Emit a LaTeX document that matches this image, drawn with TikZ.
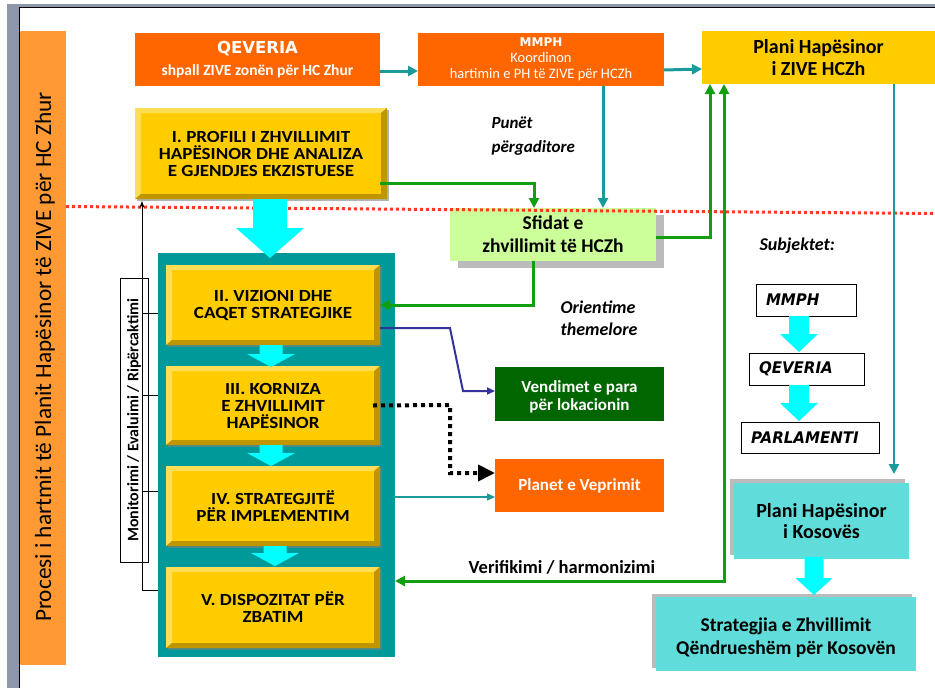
\documentclass[tikz,border=0pt]{standalone}
\usepackage{fontspec}
\setmainfont{Carlito}
\newfontfamily\dejavu{DejaVu Sans}
\newfontfamily\subjfont{DejaVu Sans}[FakeStretch=0.94]
\newfontfamily\gill{Carlito}[FakeStretch=1.12]
\usetikzlibrary{arrows.meta,shadows}
\definecolor{barorange}{HTML}{FF9933}
\definecolor{boxorange}{HTML}{FF6600}
\definecolor{boxyellow}{HTML}{FFCC00}
\definecolor{ylight}{HTML}{FFDD55}
\definecolor{ydark}{HTML}{BF9600}
\definecolor{contteal}{HTML}{009999}
\definecolor{arrcyan}{HTML}{00FFFF}
\definecolor{lgreen}{HTML}{CCFF99}
\definecolor{dgreen}{HTML}{006600}
\definecolor{kcyan}{HTML}{60DDDA}
\definecolor{lngreen}{HTML}{119F11}
\definecolor{lnteal}{HTML}{1A9A9A}
\definecolor{lnblue}{HTML}{333399}
\definecolor{frgray}{HTML}{8E97AA}
\definecolor{dotred}{HTML}{FF3A1A}
\definecolor{shgray}{HTML}{BBBBBB}
\newcommand\bevel[1]{%
 \fill[ylight] (#1.north west) -- (#1.north east) -- ([xshift=-6pt,yshift=-5pt]#1.north east) -- ([xshift=6pt,yshift=-5pt]#1.north west) -- ([xshift=6pt,yshift=5pt]#1.south west) -- (#1.south west) -- cycle;
 \fill[ydark] (#1.south west) -- (#1.south east) -- (#1.north east) -- ([xshift=-6pt,yshift=-5pt]#1.north east) -- ([xshift=-6pt,yshift=5pt]#1.south east) -- ([xshift=6pt,yshift=5pt]#1.south west) -- cycle;}
\newcommand\blockarr[6]{\fill[arrcyan] (#1-#5,#2) -- (#1+#5,#2) -- (#1+#5,#3) -- (#1+#6,#3) -- (#1,#4) -- (#1-#6,#3) -- (#1-#5,#3) -- cycle;}
\begin{document}
\begin{tikzpicture}[x=1pt,y=-1pt,
 sz/.style 2 args={minimum width=#1pt,minimum height=#2pt,inner sep=0pt,outer sep=0pt},
 ybox/.style={fill=boxyellow,align=center,font=\gill\bfseries\fontsize{17}{17}\selectfont,drop shadow={shadow xshift=2pt,shadow yshift=-2pt,fill=gray,opacity=0.6}},
 obox/.style={fill=boxorange,text=white,align=center},
 gline/.style={draw=lngreen,line width=3pt,-{Triangle[length=10pt,width=10pt]}},
 tline/.style={draw=lnteal,line width=3pt,-{Triangle[length=10pt,width=10pt]}},
 tthin/.style={draw=lnteal,line width=1.5pt,-{Triangle[length=8pt,width=7pt]}},
 bline/.style={draw=lnblue,line width=2pt,-{Triangle[length=8pt,width=7pt]}},
 dline/.style={draw=black,line width=4pt,dash pattern=on 4pt off 4pt,-{Triangle[length=17pt,width=16pt]}},
 mline/.style={draw=black,line width=0.8pt},
 sbox/.style={draw=black,line width=1pt,fill=white,align=left,font=\subjfont\bfseries\itshape\fontsize{16}{18}\selectfont},
 kbox/.style={fill=kcyan,align=center,font=\bfseries\fontsize{20}{21}\selectfont},
 lbl/.style={font=\bfseries\itshape\fontsize{18}{22}\selectfont,align=left,anchor=west}]
\useasboundingbox (0,0) rectangle (935,688);
% frame
\fill[frgray] (7,4) rectangle (935,7);
\fill[frgray] (7,4) rectangle (19,688);
\draw[black,line width=0.8pt] (19.4,688) -- (19.4,7.4) -- (935,7.4);
% side bar
\node[fill=barorange,sz={46}{634}] (bar) at (43,348) {};
\node[rotate=90,font=\fontsize{23.3}{28}\selectfont] (bartext) at (45,357) {Procesi i hartmit të Planit Hapësinor të ZIVE për HC Zhur};
% top row
\node[obox,sz={245}{53},font=\bfseries\fontsize{15.5}{22}\selectfont] (qev) at (257.5,59.5) {{\dejavu\fontsize{16.5}{22}\selectfont QEVERIA}\\shpall ZIVE zonën për HC Zhur};
\node[obox,sz={246}{53},font=\fontsize{14.5}{16}\selectfont] (mmph) at (541,59.5) {{\dejavu\bfseries\fontsize{12}{16}\selectfont MMPH}\\Koordinon\\hartimin e PH të ZIVE për HCZh};
\node[fill=boxyellow,sz={233}{53},align=center,font=\bfseries\fontsize{20}{22}\selectfont] (plan) at (818.5,57.5) {Plani Hapësinor\\i ZIVE HCZh};
% profile
\node[ybox,sz={252}{91}] (prof) at (261,153.5) {I. PROFILI I ZHVILLIMIT\\HAPËSINOR DHE ANALIZA\\E GJENDJES EKZISTUESE};
\bevel{prof}
% container
\node[fill=contteal,sz={237}{404}] (cont) at (276.5,455) {};
\node[ybox,sz={214}{80}] (II) at (273,305) {II. VIZIONI DHE\\CAQET STRATEGJIKE};
\bevel{II}
\node[ybox,sz={214}{79}] (III) at (273,405.5) {III. KORNIZA\\E ZHVILLIMIT\\HAPËSINOR};
\bevel{III}
\node[ybox,sz={214}{80}] (IV) at (273,506) {IV. STRATEGJITË\\PËR IMPLEMENTIM};
\bevel{IV}
\node[ybox,sz={214}{81}] (V) at (273,607.5) {V. DISPOZITAT PËR\\ZBATIM};
\bevel{V}
% monitoring
\node[draw=black,line width=0.8pt,fill=white,rotate=90,sz={284}{28},font=\bfseries\fontsize{16}{18}\selectfont] (mon) at (134,420) {Monitorimi / Evaluimi / Ripërcaktimi};
% middle boxes
\node[fill=lgreen,sz={206}{53},align=center,font=\bfseries\fontsize{19.5}{23}\selectfont,drop shadow={shadow xshift=8pt,shadow yshift=-7pt,fill=shgray,opacity=1}] (sfid) at (553,234.5) {Sfidat e\\zhvillimit të HCZh};
\node[fill=dgreen,text=white,sz={169}{54},align=center,font=\bfseries\fontsize{17}{18}\selectfont] (vend) at (579.5,394) {\rule{0pt}{18.5pt}Vendimet e para\\për lokacionin};
\node[obox,sz={169}{53},font=\bfseries\fontsize{17}{18}\selectfont] (planet) at (579.5,485.5) {Planet e Veprimit};
% subjects
\node[sbox,sz={100}{32},text width=80pt] (smmph) at (806,300) {MMPH};
\node[sbox,sz={115}{32},text width=95pt] (sqev) at (806.5,369) {QEVERIA};
\node[sbox,sz={138}{31},text width=118pt] (sparl) at (810,437.5) {PARLAMENTI};
% kosovo boxes
\node[kbox,sz={175}{76},drop shadow={shadow xshift=-4pt,shadow yshift=4pt,fill=shgray,opacity=1}] (kos) at (821.5,521) {Plani Hapësinor\\i Kosovës};
\node[kbox,sz={260}{74},font=\bfseries\fontsize{19.5}{23}\selectfont,drop shadow={shadow xshift=-4pt,shadow yshift=3pt,fill=shgray,opacity=1}] (strat) at (786,634) {\rule{0pt}{22pt}Strategjia e Zhvillimit\\Qëndrueshëm për Kosovën};
% red dotted divider
\draw[dotred,line width=3pt,dash pattern=on 3pt off 3pt] (66,206.5) -- (935,213.5);
% block arrows
\blockarr{270}{199}{228}{258}{17}{34}
\blockarr{271}{345}{354}{367}{11.5}{24}
\blockarr{271}{445}{453}{466}{11.5}{24}
\blockarr{275}{546}{553}{566}{11.5}{24}
\blockarr{799}{316}{334}{352}{10}{19}
\blockarr{799}{385}{403}{421}{10}{19}
\blockarr{814}{557}{578}{595}{9.5}{18.5}
% connectors
\draw[tline] ([yshift=-11.5pt]qev.east) -- ([yshift=-11.5pt]mmph.west);
\draw[tline] ([yshift=-10.5pt]mmph.east) -- ([yshift=-11.5pt]plan.west);
\coordinate (m1) at ([xshift=62pt]mmph.south);
\draw[tline] (m1) -- (m1 |- sfid.north);
\coordinate (s1) at ([xshift=-19pt]sfid.north);
\draw[gline] ([xshift=-7pt,yshift=-29.5pt]prof.east) -| (s1);
\coordinate (p1) at ([xshift=-108.5pt]plan.south);
\draw[gline] ([yshift=-2.5pt]sfid.east) -| (p1);
\coordinate (p2) at ([xshift=-94.5pt]plan.south);
\coordinate (v1) at ([yshift=26.5pt]V.east);
\draw[gline,{Triangle[length=10pt,width=10pt]}-{Triangle[length=10pt,width=10pt]}] (v1 -| cont.east) -| (p2);
\coordinate (s2) at ([xshift=-20pt]sfid.south);
\draw[gline] (s2) |- (II.east);
\coordinate (b1) at (450,328);
\coordinate (b2) at (463,391);
\draw[bline] ([yshift=-23pt]II.east) -- (b1) -- (b2) -- (b2 -| vend.west);
\coordinate (d1) at (450,405);
\draw[dline] ([xshift=-7pt]III.east) -- (d1) |- ([yshift=12.5pt]planet.west);
\coordinate (i4) at ([yshift=9pt]IV.east);
\draw[tthin] (i4 -| cont.east) -- (i4 -| planet.west);
\coordinate (p3) at ([xshift=75.5pt]plan.south);
\draw[tline,line width=2.5pt,shorten >=9pt] (p3) -- (p3 |- kos.north);
% monitoring lines
\coordinate (mt) at ([xshift=-119pt]prof.south);
\coordinate (c2) at ([yshift=-8pt]II.west);
\coordinate (c3) at ([yshift=10.5pt]III.west);
\coordinate (c4) at ([yshift=14.5pt]IV.west);
\coordinate (c5) at ([yshift=17.5pt]V.west);
\draw[mline,-{Stealth[length=7pt,width=5pt]}] (c5 -| mt) -- ([yshift=-2pt]mt);
\draw[mline] (c2 -| mt) -- (c2 -| cont.west);
\draw[mline] (c3 -| mt) -- (c3 -| cont.west);
\draw[mline] (c4 -| mt) -- (c4 -| cont.west);
\draw[mline] (c5 -| mt) -- (c5 -| cont.west);
% labels
\node[lbl,font=\bfseries\itshape\fontsize{17}{24}\selectfont] (punet) at (488,136) {Punët\\përgaditore};
\node[lbl] (orient) at (557,318) {Orientime\\themelore};
\node[lbl] (subj) at (756,246) {Subjektet:};
\node[font=\bfseries\fontsize{18.5}{22}\selectfont] (verif) at (562,567) {Verifikimi / harmonizimi};
\end{tikzpicture}
\end{document}
